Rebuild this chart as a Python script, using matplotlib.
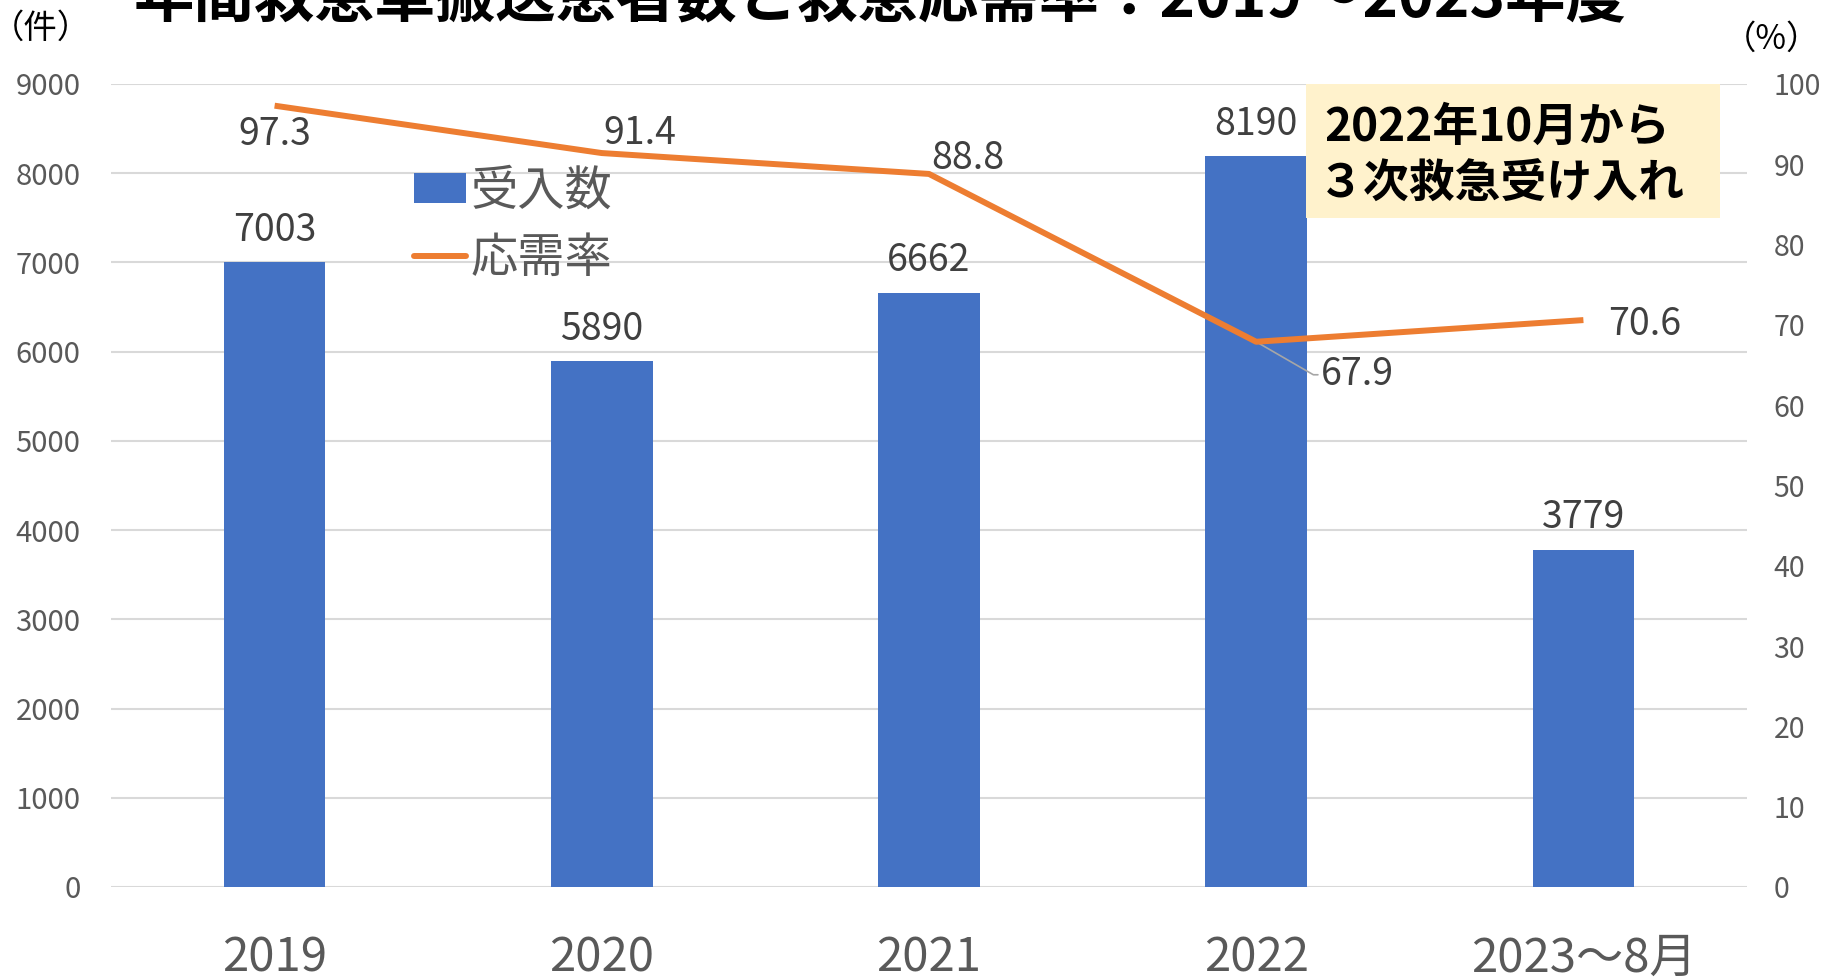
import matplotlib
matplotlib.use("Agg")
import matplotlib.pyplot as plt
from matplotlib.patches import Rectangle, Patch
from matplotlib.lines import Line2D

plt.rcParams['font.family'] = ['Noto Sans CJK JP', 'DejaVu Sans']

# data
years = ["2019", "2020", "2021", "2022", "2023～8月"]
patients = [7003, 5890, 6662, 8190, 3779]
acceptance_rate = [97.3, 91.4, 88.8, 67.9, 70.6]

bar_color = "#4472C4"
line_color = "#ED7D31"
tick_color = "#595959"
label_color = "#404040"

W, H = 1827, 977
fig = plt.figure(figsize=(W / 100, H / 100), dpi=100)

# plot area in pixels: left 111, right 1747, top 84, bottom 887
ax = fig.add_axes([111 / W, 1 - 887 / H, (1747 - 111) / W, (887 - 84) / H])
ax2 = ax.twinx()

x = list(range(len(years)))
ax.bar(x, patients, width=0.31, color=bar_color, zorder=3)
ax.set_xlim(-0.5, len(years) - 0.5)
ax.set_ylim(0, 9000)
ax.set_yticks(range(0, 9001, 1000))
ax.grid(axis='y', color="#D9D9D9", lw=1.5, zorder=0)
ax.set_axisbelow(True)
for s in ax.spines.values():
    s.set_visible(False)
for s in ax2.spines.values():
    s.set_visible(False)
ax.tick_params(axis='y', length=0, pad=22, labelsize=21, labelcolor=tick_color)
ax.tick_params(axis='x', length=0, pad=34, labelsize=34, labelcolor=tick_color)
ax.set_xticks(x)
ax.set_xticklabels(years)

# bar labels
for xi, v in zip(x, patients):
    ax.annotate(str(v), xy=(xi, v), xytext=(0, 32), textcoords='offset pixels',
                ha='center', va='center', fontsize=27, color=label_color, zorder=5)

ax2.plot(x, acceptance_rate, color=line_color, lw=4.3, zorder=4, solid_capstyle='butt')
ax2.set_ylim(0, 100)
ax2.set_yticks(range(0, 101, 10))
ax2.tick_params(axis='y', length=0, pad=19, labelsize=20.5, labelcolor=tick_color)

# line labels (pixel offsets from point)
offsets = [(0, -29), (38, 20), (39, 15), (101, -33), (61, -4)]
for xi, v, (dx, dy) in zip(x, acceptance_rate, offsets):
    if xi == 3:
        ax2.annotate(f"{v}", xy=(xi, v), xytext=(dx, dy), textcoords='offset pixels',
                     ha='center', va='center', fontsize=27, color=label_color,
                     arrowprops=dict(arrowstyle='-', color='#A6A6A6', lw=1.2,
                                     shrinkA=0, shrinkB=0,
                                     connectionstyle='angle,angleA=0,angleB=-30,rad=0',
                                     relpos=(0, 0.5)))
    else:
        ax2.annotate(f"{v}", xy=(xi, v), xytext=(dx, dy), textcoords='offset pixels',
                     ha='center', va='center', fontsize=27, color=label_color)

# legend
handles = [Patch(facecolor=bar_color, edgecolor='none'),
           Line2D([0], [0], color=line_color, lw=4.3, solid_capstyle='round')]
leg = ax2.legend(handles, ["受入数", "応需率"], loc='upper left',
                 bbox_to_anchor=(0.185, 0.896), frameon=False, fontsize=34,
                 handlelength=1.1, handleheight=0.6, handletextpad=0.1,
                 labelspacing=0.38, borderpad=0, borderaxespad=0)
for t in leg.get_texts():
    t.set_color(tick_color)

# annotation box
fig.patches.append(Rectangle((1306 / W, 1 - 218 / H), (1720 - 1306) / W, (218 - 84) / H,
                             transform=fig.transFigure, facecolor="#FFF2CC",
                             edgecolor='none', zorder=6))
fig.text(1324 / W, 1 - 128 / H, "2022年10月から", fontsize=33, fontweight='bold',
         color='black', ha='left', va='center', zorder=7)
fig.text(1318 / W, 1 - 185 / H, "３次救急受け入れ", fontsize=33, fontweight='bold',
         color='black', ha='left', va='center', zorder=7)

# axis unit labels
fig.text(41 / W, 1 - 28 / H, "（件）", fontsize=24, color='black', ha='center', va='center')
fig.text(1772 / W, 1 - 39 / H, "（%）", fontsize=24, color='black', ha='center', va='center')

# title (cut off at the top edge)
fig.text(880 / W, 1 - 17 / H, "年間救急車搬送患者数と救急応需率：2019～2023年度",
         fontsize=43.5, fontweight='bold', color='black', ha='center', va='baseline')

fig.savefig("out.png", dpi=100)
